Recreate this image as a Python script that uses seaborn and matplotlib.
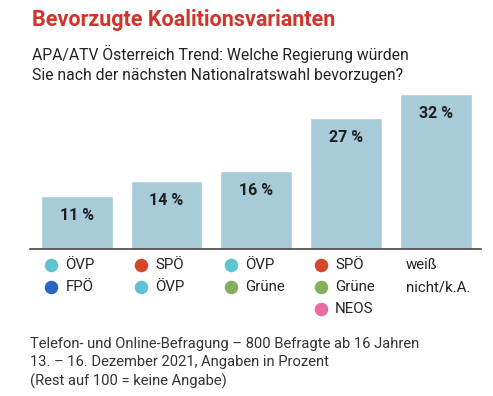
import numpy as np
import pandas as pd
import seaborn as sns
import matplotlib.pyplot as plt

# Bevorzugte Koalitionsvarianten - APA/ATV Österreich Trend, Dez. 2021

variants = ["ÖVP-FPÖ", "SPÖ-ÖVP", "ÖVP-Grüne", "SPÖ-Grüne-NEOS", "weiß nicht/k.A."]
shares = [11, 14, 16, 27, 32]
parties = [["ÖVP", "FPÖ"], ["SPÖ", "ÖVP"], ["ÖVP", "Grüne"], ["SPÖ", "Grüne", "NEOS"], []]
party_colors = {"ÖVP": "#5fc3d1", "FPÖ": "#2966c4", "SPÖ": "#d5472d",
                "Grüne": "#85b05b", "NEOS": "#ea6aa2"}

title = "Bevorzugte Koalitionsvarianten"
subtitle = "APA/ATV Österreich Trend: Welche Regierung würden\nSie nach der nächsten Nationalratswahl bevorzugen?"
footer = ("Telefon- und Online-Befragung – 800 Befragte ab 16 Jahren\n"
          "13. – 16. Dezember 2021, Angaben in Prozent\n"
          "(Rest auf 100 = keine Angabe)")

sns.set_style("white")
plt.rcParams["font.family"] = ["Roboto", "DejaVu Sans"]

df = pd.DataFrame({"variant": variants, "share": shares})

W, H = 493, 396
fig = plt.figure(figsize=(W / 100, H / 100), dpi=100)

# main bar axes, placed in pixel terms
x0, x1, ybase, ytop = 30, 481, 249, 89
ax = fig.add_axes([x0 / W, 1 - ybase / H, (x1 - x0) / W, (ybase - ytop) / H])
sns.barplot(data=df, x="variant", y="share", order=variants, color="#a7cbd9",
            saturation=1, width=0.8, ax=ax)
ax.set_xlim(-0.52, 4.5)
ax.set_ylim(0, 33)
ax.set_xlabel("")
ax.set_ylabel("")
ax.set_xticks([])
ax.set_yticks([])
for s in ["top", "right", "left"]:
    ax.spines[s].set_visible(False)
ax.spines["bottom"].set_color("#444444")
ax.spines["bottom"].set_linewidth(1.2)

for i, v in enumerate(shares):
    ax.annotate(f"{v} %", (i, v), xytext=(0, -14), textcoords="offset points",
                ha="center", va="center", fontsize=11.5, fontweight="bold",
                color="#1e1e1e")

# legend below bars: one column per variant
lax = fig.add_axes([x0 / W, 1 - 320 / H, (x1 - x0) / W, (320 - 254) / H])
lax.set_xlim(-0.52, 4.5)
lax.set_ylim(3, 0)
lax.axis("off")
for i, plist in enumerate(parties):
    for r, p in enumerate(plist):
        lax.scatter(i - 0.285, r + 0.5, s=95, color=party_colors[p], linewidths=0)
        lax.text(i - 0.125, r + 0.5, p, ha="left", va="center", fontsize=10.8,
                 color="#222222")
lax.text(4 - 0.335, 0.5, "weiß", ha="left", va="center", fontsize=10.8, color="#222222")
lax.text(4 - 0.335, 1.5, "nicht/k.A.", ha="left", va="center", fontsize=10.8, color="#222222")

fig.text(32 / W, 1 - 20 / H, title, ha="left", va="center", fontsize=15.5,
         fontweight="bold", color="#d2332a")
fig.text(32 / W, 1 - 64 / H, subtitle, ha="left", va="center", fontsize=11.3,
         color="#222222", linespacing=1.4)
fig.text(30 / W, 1 - 363 / H, footer, ha="left", va="center", fontsize=10.6,
         color="#333333", linespacing=1.42)

fig.savefig("out.png", dpi=100)
